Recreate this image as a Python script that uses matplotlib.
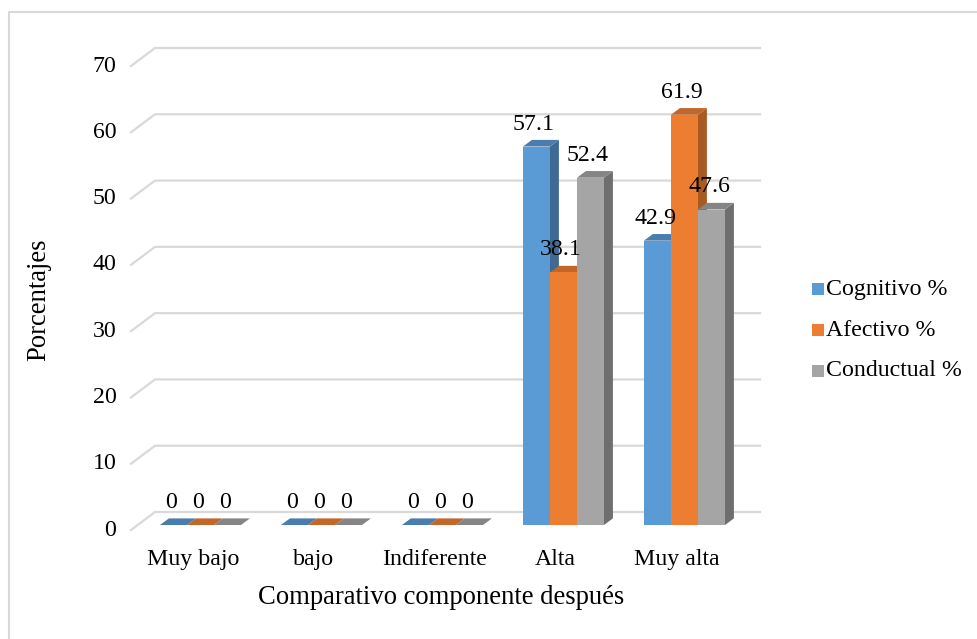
import matplotlib
matplotlib.use("Agg")
import matplotlib.pyplot as plt
from matplotlib.patches import Polygon, Rectangle
from matplotlib.lines import Line2D
import numpy as np

plt.rcParams['font.family'] = ['Liberation Serif', 'DejaVu Serif']

categories = ['Muy bajo', 'bajo', 'Indiferente', 'Alta', 'Muy alta']
series = ['Cognitivo %', 'Afectivo %', 'Conductual %']
cognitivo = [0, 0, 0, 57.1, 42.9]
afectivo = [0, 0, 0, 38.1, 61.9]
conductual = [0, 0, 0, 52.4, 47.6]
values = [cognitivo, afectivo, conductual]
yticks = [0, 10, 20, 30, 40, 50, 60, 70]

front = ['#5B9BD5', '#ED7D31', '#A5A5A5']
side = ['#3E6A93', '#A85A22', '#6E6E6E']
top = ['#4A7DAE', '#C2662A', '#858585']

fig = plt.figure(figsize=(9.77, 6.39), dpi=100)
W, H = 977, 639
ax = fig.add_axes([131 / W, (H - 530) / H, 605 / W, 464 / H])
ax.set_xlim(-0.5, 4.5)
ax.set_ylim(0, 70)
ax.axis('off')

# depth of the plot (floor/back wall) in data units
DX, DY = 24 / 121, 18 / 6.63
# bar placement inside the depth
FX, FY = 0.074, 0.75     # offset of bar front face
BX, BY = 0.074, 1.0      # bar thickness (side/top)
bw = 27 / 121
gw = 3 * bw
fs = 17.2

grid = '#D9D9D9'
for v in yticks:
    ax.add_line(Line2D([-0.5, -0.5 + DX, 4.5 + DX], [v, v + DY, v + DY],
                       color=grid, lw=1.6, clip_on=False, zorder=1))
    ax.text(-0.62, v, str(v), ha='right', va='center', fontsize=fs)

for i in range(len(categories)):
    for j in range(3):
        v = values[j][i]
        x0 = i - gw / 2 + j * bw + FX
        x1 = x0 + bw
        y0 = FY
        y1 = FY + v
        z = 3 + i * 3 + j
        if v > 0:
            ax.add_patch(Polygon([(x1, y0), (x1 + BX, y0 + BY), (x1 + BX, y1 + BY), (x1, y1)],
                                 closed=True, fc=side[j], ec='none', zorder=z, clip_on=False))
        ax.add_patch(Polygon([(x0, y1), (x0 + BX, y1 + BY), (x1 + BX, y1 + BY), (x1, y1)],
                             closed=True, fc=top[j], ec='none', zorder=z, clip_on=False))
        if v > 0:
            ax.add_patch(Rectangle((x0, y0), bw, v, fc=front[j], ec='none', zorder=z,
                                   clip_on=False))
        ax.text((x0 + x1) / 2 - 0.02, y1 + 3.4, f'{v:g}', ha='center', va='center',
                fontsize=fs, zorder=30)
    ax.text(i + 0.01, -4.4, categories[i], ha='center', va='center', fontsize=fs)

ax.text(2.06, -10.2, 'Comparativo componente después', ha='center', va='center', fontsize=19.2)
fig.text(39 / W, (H - 300) / H, 'Porcentajes', rotation=90, ha='center', va='center',
         fontsize=19.2)

# legend
for j, name in enumerate(series):
    yy = (H - (289 + j * 41)) / H
    fig.patches.append(Rectangle((812 / W, yy - 6 / H), 12 / W, 12 / H, fc=front[j], ec='none',
                                 transform=fig.transFigure, figure=fig))
    fig.text(826 / W, yy, name, ha='left', va='center', fontsize=fs)

# chart border (left and top visible)
fig.add_artist(Line2D([9 / W, 9 / W, 1.0], [0.0, (H - 12) / H, (H - 12) / H],
                      color='#D9D9D9', lw=1.5, transform=fig.transFigure))

fig.savefig('out.png', dpi=100, facecolor='white')
